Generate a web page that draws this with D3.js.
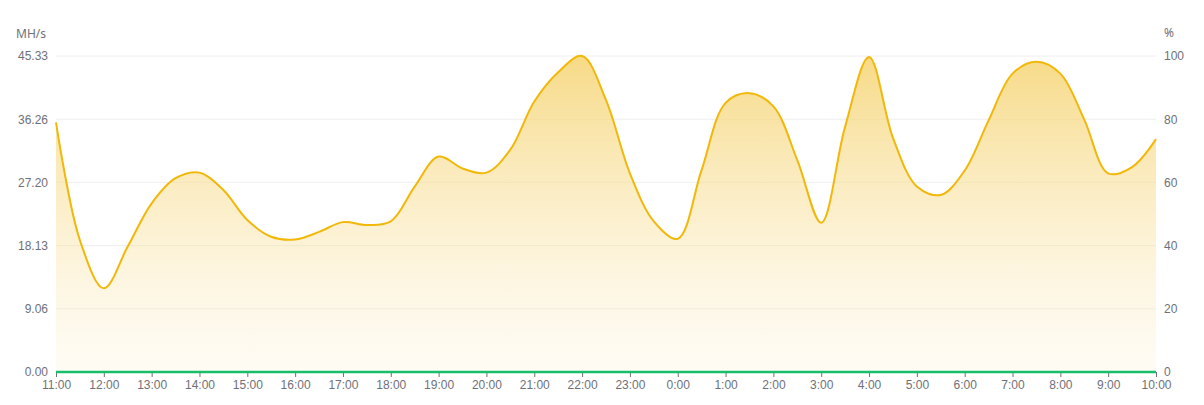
<!DOCTYPE html>
<html>
<head>
<meta charset="utf-8">
<script src="https://cdn.jsdelivr.net/npm/d3@7"></script>
<style>
  body { margin: 0; background: #fff; }
  svg { display: block; font-family: "Noto Sans", sans-serif; }
</style>
</head>
<body>
<div id="chart"></div>
<script>
// half-hour samples, 11:00 -> 10:00
const times = [
  "11:00","11:30","12:00","12:30","13:00","13:30","14:00","14:30","15:00","15:30",
  "16:00","16:30","17:00","17:30","18:00","18:30","19:00","19:30","20:00","20:30",
  "21:00","21:30","22:00","22:30","23:00","23:30","0:00","0:30","1:00","1:30",
  "2:00","2:30","3:00","3:30","4:00","4:30","5:00","5:30","6:00","6:30",
  "7:00","7:30","8:00","8:30","9:00","9:30","10:00"
];
const hashrate = [
  35.8, 18.9, 12.0, 18.0, 24.2, 27.8, 28.6, 26.1, 21.8, 19.4,
  19.0, 20.1, 21.5, 21.1, 21.6, 26.6, 30.9, 29.2, 28.6, 31.9,
  38.8, 43.0, 45.33, 39.0, 28.5, 21.6, 19.1, 29.0, 38.6, 40.0,
  38.1, 30.4, 21.4, 35.2, 45.2, 33.6, 26.6, 25.4, 28.9, 36.1,
  42.8, 44.5, 42.8, 36.2, 28.5, 29.4, 33.4
];
const rejectRate = times.map(() => 0); // second series, flat at 0 %
const leftTicks = [0, 9.06, 18.13, 27.20, 36.26, 45.33];
const rightTicks = [0, 20, 40, 60, 80, 100];

const width = 1204, height = 405;
const margin = {top: 56, right: 48, bottom: 33, left: 56};
const textColor = "#6e7079";

const svg = d3.select("#chart").append("svg")
  .attr("width", width)
  .attr("height", height);

const x = d3.scalePoint()
  .domain(times)
  .range([margin.left, width - margin.right]);
const y = d3.scaleLinear()
  .domain([0, 45.33])
  .range([height - margin.bottom, margin.top]);
const yRight = d3.scaleLinear()
  .domain([0, 100])
  .range([height - margin.bottom, margin.top]);

// gradient for the area
const grad = svg.append("defs").append("linearGradient")
  .attr("id", "areaGrad")
  .attr("x1", 0).attr("y1", 0).attr("x2", 0).attr("y2", 1);
grad.append("stop").attr("offset", "0%").attr("stop-color", "#f5d168").attr("stop-opacity", 0.8);
grad.append("stop").attr("offset", "100%").attr("stop-color", "#fbeecb").attr("stop-opacity", 0.2);

// grid lines
svg.append("g")
  .selectAll("line")
  .data(leftTicks.slice(1))
  .join("line")
    .attr("x1", margin.left)
    .attr("x2", width - margin.right)
    .attr("y1", d => y(d))
    .attr("y2", d => y(d))
    .attr("stroke", "#eeeeee")
    .attr("stroke-width", 1);

// left axis
const leftAxis = svg.append("g")
  .attr("transform", `translate(${margin.left},0)`)
  .call(d3.axisLeft(y).tickValues(leftTicks).tickSize(0).tickPadding(8).tickFormat(d3.format(".2f")));
leftAxis.select(".domain").remove();
leftAxis.selectAll("text").attr("fill", textColor).style("font-size", "12px");

// right axis
const rightAxis = svg.append("g")
  .attr("transform", `translate(${width - margin.right},0)`)
  .call(d3.axisRight(yRight).tickValues(rightTicks).tickSize(0).tickPadding(8));
rightAxis.select(".domain").remove();
rightAxis.selectAll("text").attr("fill", textColor).style("font-size", "12px");

// axis names
svg.append("text")
  .attr("x", 16).attr("y", 34).attr("dy", "0.35em")
  .attr("fill", textColor).style("font-size", "12px")
  .text("MH/s");
svg.append("text")
  .attr("x", width - margin.right + 8).attr("y", 33).attr("dy", "0.35em")
  .attr("fill", textColor).style("font-size", "12px")
  .text("%");

// bottom axis, one label per hour
const hourLabels = times.filter((t, i) => i % 2 === 0);
const xAxis = svg.append("g")
  .attr("transform", `translate(0,${height - margin.bottom})`)
  .call(d3.axisBottom(x).tickValues(hourLabels).tickSize(5).tickPadding(3));
xAxis.select(".domain").attr("stroke", "#6e7079");
xAxis.selectAll(".tick line").attr("stroke", "#6e7079");
xAxis.selectAll("text").attr("fill", textColor).style("font-size", "12px");

// hashrate area + line
const curve = d3.curveCatmullRom.alpha(0.5);
const area = d3.area()
  .x((d, i) => x(times[i]))
  .y0(y(0))
  .y1(d => y(d))
  .curve(curve);
const line = d3.line()
  .x((d, i) => x(times[i]))
  .y(d => y(d))
  .curve(curve);

svg.append("path")
  .datum(hashrate)
  .attr("d", area)
  .attr("fill", "url(#areaGrad)");

svg.append("path")
  .datum(hashrate)
  .attr("d", line)
  .attr("fill", "none")
  .attr("stroke", "#f1b80a")
  .attr("stroke-width", 2);

// reject rate line
svg.append("path")
  .datum(rejectRate)
  .attr("d", d3.line().x((d, i) => x(times[i])).y(d => yRight(d)))
  .attr("fill", "none")
  .attr("stroke", "#19be6b")
  .attr("stroke-width", 2.5);
</script>
</body>
</html>
